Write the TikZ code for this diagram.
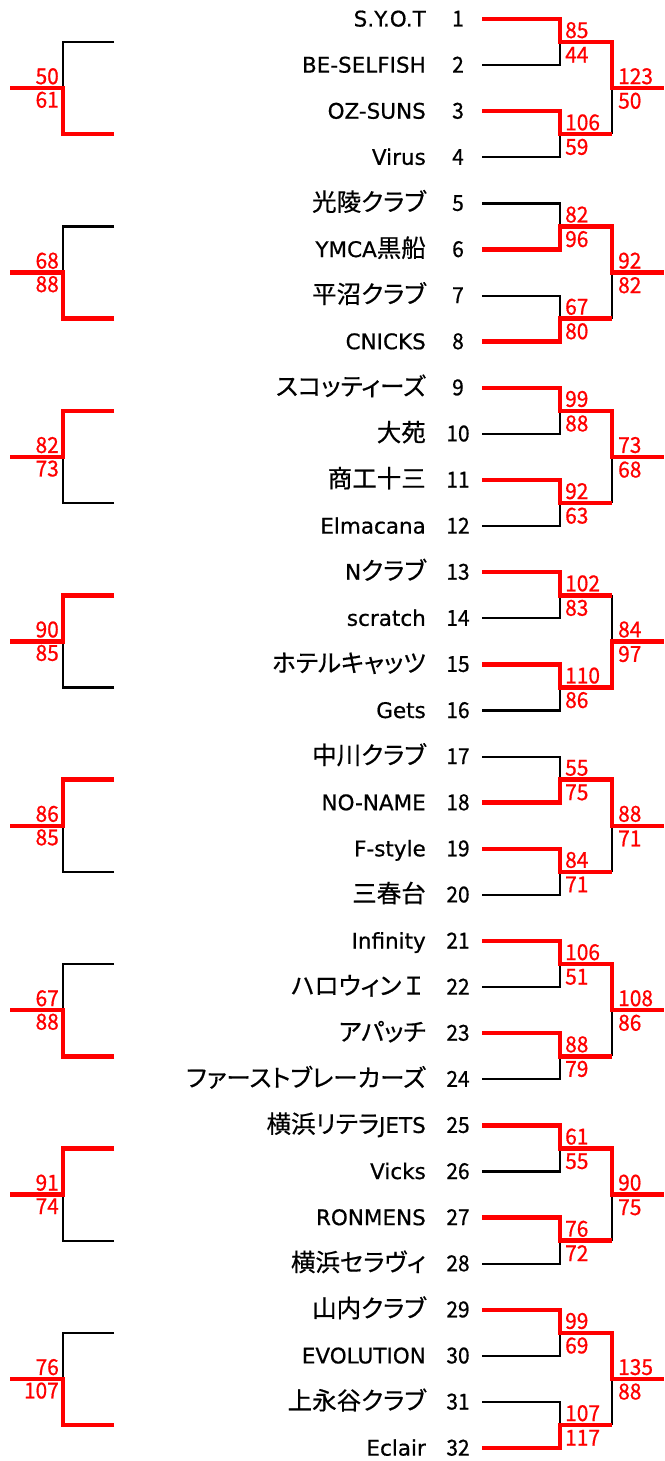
\documentclass[tikz,border=0pt]{standalone}
\usepackage{fontspec}
\newfontfamily\lat[FakeBold=0.6]{DejaVu Sans}
\newfontfamily\jpf[RawFeature=+palt,FakeBold=0.5]{Noto Sans CJK JP}
\newfontfamily\jpw[FakeBold=0.5]{Noto Sans CJK JP}
\newfontfamily\numf[FakeBold=0.7,FakeStretch=0.95]{Noto Sans CJK JP}
\newcommand\J[1]{{\jpf\fontsize{24.5}{28}\selectfont #1}}
\newcommand\JW[1]{{\jpw\fontsize{24.5}{28}\selectfont #1}}
\definecolor{rd}{RGB}{255,0,0}
\tikzset{
  blk/.style={draw=black, line width=2.2pt},
  win/.style={draw=rd, line width=4.5pt, line join=miter},
  sc/.style={text=rd, inner sep=0pt, font=\numf\fontsize{22}{24}\selectfont},
  nm/.style={anchor=base east, inner sep=0pt, font=\lat\fontsize{21.5}{24}\selectfont},
  no/.style={anchor=base, inner sep=0pt, font=\numf\fontsize{22}{24}\selectfont},
}
% #1 group, #2 #3 first match, #4 #5 second match, #6 #7 final, #8 #9 left bracket
\newcommand\drawgroup[9]{%
  \pgfmathsetmacro\ya{19+46.1*(4*#1-4)}%
  \pgfmathsetmacro\yb{\ya+46.1}%
  \pgfmathsetmacro\yc{\ya+92.2}%
  \pgfmathsetmacro\yd{\ya+138.3}%
  \pgfmathsetmacro\ma{\ya+23.05}%
  \pgfmathsetmacro\mb{\ya+115.25}%
  \pgfmathsetmacro\gm{\ya+69.15}%
  \coordinate (g#1ta) at (482,\ya); \coordinate (g#1tb) at (482,\yb);
  \coordinate (g#1tc) at (482,\yc); \coordinate (g#1td) at (482,\yd);
  \coordinate (g#1ca) at (560,\ya); \coordinate (g#1cb) at (560,\yb);
  \coordinate (g#1cc) at (560,\yc); \coordinate (g#1cd) at (560,\yd);
  \coordinate (g#1ja) at (560,\ma); \coordinate (g#1jb) at (560,\mb);
  \coordinate (g#1ka) at (612,\ma); \coordinate (g#1kb) at (612,\mb);
  \coordinate (g#1kg) at (612,\gm); \coordinate (g#1og) at (664,\gm);
  \coordinate (g#1la) at (114,\ma); \coordinate (g#1va) at (63,\ma);
  \coordinate (g#1lb) at (114,\mb); \coordinate (g#1vb) at (63,\mb);
  \coordinate (g#1lg) at (63,\gm); \coordinate (g#1lo) at (10,\gm);
  \ifnum#2>#3\relax
    \def\wa{g#1ta}\def\wca{g#1ca}\def\lsa{g#1tb}\def\lca{g#1cb}%
  \else
    \def\wa{g#1tb}\def\wca{g#1cb}\def\lsa{g#1ta}\def\lca{g#1ca}%
  \fi
  \ifnum#4>#5\relax
    \def\wb{g#1tc}\def\wcb{g#1cc}\def\lsb{g#1td}\def\lcb{g#1cd}%
  \else
    \def\wb{g#1td}\def\wcb{g#1cd}\def\lsb{g#1tc}\def\lcb{g#1cc}%
  \fi
  \draw[blk] (\lsa) -- (\lca) -- (g#1ja);
  \draw[blk] (\lsb) -- (\lcb) -- (g#1jb);
  \ifnum#6>#7\relax
    \draw[blk] (g#1kb) -- (g#1kg);
    \draw[win] (\wb) -- (\wcb) -- (g#1jb) -- (g#1kb);
    \draw[win] (\wa) -- (\wca) -- (g#1ja) -- (g#1ka) -- (g#1kg) -- (g#1og);
  \else
    \draw[blk] (g#1ka) -- (g#1kg);
    \draw[win] (\wa) -- (\wca) -- (g#1ja) -- (g#1ka);
    \draw[win] (\wb) -- (\wcb) -- (g#1jb) -- (g#1kb) -- (g#1kg) -- (g#1og);
  \fi
  \ifnum#8>#9\relax
    \draw[blk] (g#1lb) -- (g#1vb) -- (g#1lg);
    \draw[win] (g#1la) -- (g#1va) -- (g#1lg) -- (g#1lo);
  \else
    \draw[blk] (g#1la) -- (g#1va) -- (g#1lg);
    \draw[win] (g#1lb) -- (g#1vb) -- (g#1lg) -- (g#1lo);
  \fi
  \node[sc,anchor=base west] (g#1s1) at ([xshift=5pt,yshift=4pt]g#1ja) {#2};
  \node[sc,anchor=base west] (g#1s2) at ([xshift=5pt,yshift=-20.5pt]g#1ja) {#3};
  \node[sc,anchor=base west] (g#1s3) at ([xshift=5pt,yshift=4pt]g#1jb) {#4};
  \node[sc,anchor=base west] (g#1s4) at ([xshift=5pt,yshift=-20.5pt]g#1jb) {#5};
  \node[sc,anchor=base west] (g#1s5) at ([xshift=6pt,yshift=4pt]g#1kg) {#6};
  \node[sc,anchor=base west] (g#1s6) at ([xshift=6pt,yshift=-20.5pt]g#1kg) {#7};
  \node[sc,anchor=base east] (g#1s7) at ([xshift=-4pt,yshift=4pt]g#1lg) {#8};
  \node[sc,anchor=base east] (g#1s8) at ([xshift=-4pt,yshift=-19.5pt]g#1lg) {#9};
}
\begin{document}
\begin{tikzpicture}[x=1pt,y=-1pt]
\useasboundingbox (0,0) rectangle (664,1461);
\drawgroup{1}{85}{44}{106}{59}{123}{50}{50}{61}
\drawgroup{2}{82}{96}{67}{80}{92}{82}{68}{88}
\drawgroup{3}{99}{88}{92}{63}{73}{68}{82}{73}
\drawgroup{4}{102}{83}{110}{86}{84}{97}{90}{85}
\drawgroup{5}{55}{75}{84}{71}{88}{71}{86}{85}
\drawgroup{6}{106}{51}{88}{79}{108}{86}{67}{88}
\drawgroup{7}{61}{55}{76}{72}{90}{75}{91}{74}
\drawgroup{8}{99}{69}{107}{117}{135}{88}{76}{107}
\foreach \i/\t in {1/S.Y.O.T, 2/BE-SELFISH, 3/OZ-SUNS, 4/Virus,
  5/{\J{光陵クラブ}}, 6/{YMCA\J{黒船}}, 7/{\J{平沼クラブ}}, 8/CNICKS,
  9/{\J{スコッティーズ}}, 10/{\J{大苑}}, 11/{\J{商工十三}}, 12/Elmacana,
  13/{N\J{クラブ}}, 14/scratch, 15/{\J{ホテルキャッツ}}, 16/Gets,
  17/{\J{中川クラブ}}, 18/NO-NAME, 19/F-style, 20/{\J{三春台}},
  21/Infinity, 22/{\J{ハロウィン}\JW{Ｉ}}, 23/{\J{アパッチ}}, 24/{\J{ファーストブレーカーズ}},
  25/{\J{横浜リテラ}JETS}, 26/Vicks, 27/RONMENS, 28/{\J{横浜セラヴィ}},
  29/{\J{山内クラブ}}, 30/EVOLUTION, 31/{\J{上永谷クラブ}}, 32/Eclair}{
  \pgfmathsetmacro\yy{19+46.1*(\i-1)+7.5}
  \node[nm] (name\i) at (426,\yy) {\t};
  \node[no] (num\i) at (458,\yy) {\i};
}
\end{tikzpicture}
\end{document}
